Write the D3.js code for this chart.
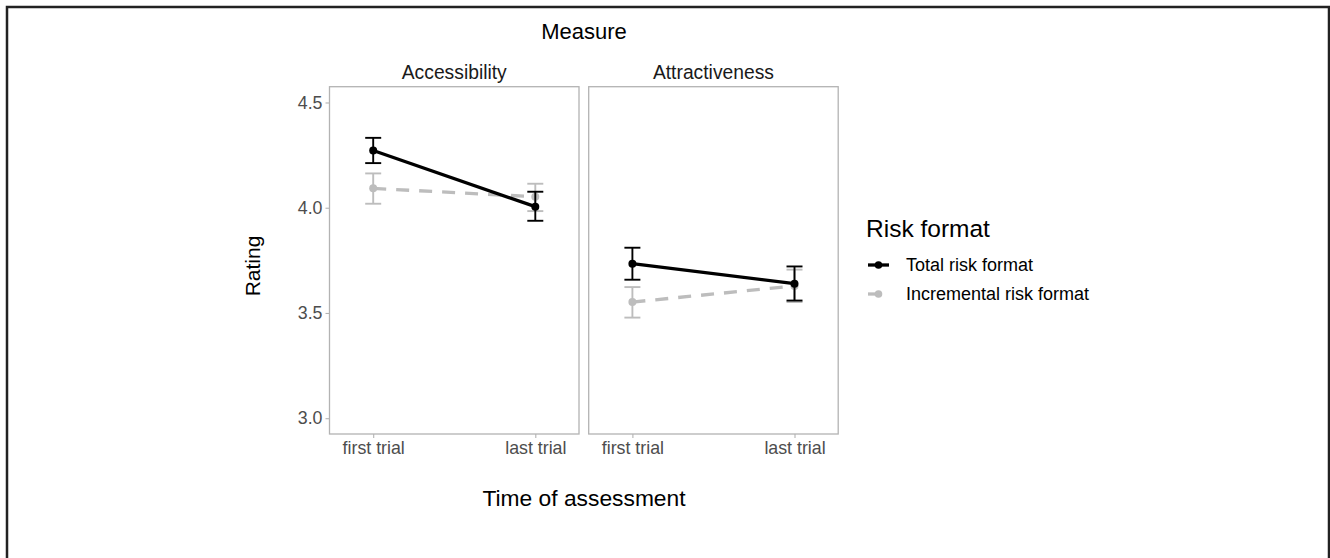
<!DOCTYPE html>
<html>
<head>
<meta charset="utf-8">
<script src="https://cdn.jsdelivr.net/npm/d3@7"></script>
<style>
  html, body { margin: 0; padding: 0; background: #fff; }
  svg { display: block; }
  text { font-family: "Liberation Sans", Arial, sans-serif; }
</style>
</head>
<body>
<script>
// ---- data ----
const panels = ["Accessibility", "Attractiveness"];
const times = ["first trial", "last trial"];
const seriesNames = ["Total risk format", "Incremental risk format"];
const yTicks = [3.0, 3.5, 4.0, 4.5];

// mean, lower, upper per panel per time
const totalMean  = [[4.272, 4.005], [3.734, 3.639]];
const totalLow   = [[4.212, 3.938], [3.658, 3.559]];
const totalHigh  = [[4.332, 4.076], [3.810, 3.721]];
const incrMean   = [[4.092, 4.052], [3.552, 3.628]];
const incrLow    = [[4.019, 3.984], [3.478, 3.552]];
const incrHigh   = [[4.163, 4.114], [3.623, 3.706]];

const seriesColors = ["#000000", "#bdbdbd"];
const seriesDash = [null, "13,10"];

const W = 1330, H = 558;
const svg = d3.select("body").append("svg").attr("width", W).attr("height", H);

// outer border
svg.append("rect").attr("x", 7).attr("y", 7).attr("width", W - 8).attr("height", H + 20)
  .attr("fill", "none").attr("stroke", "#222").attr("stroke-width", 2.5);

const panelLeft = [329.5, 588.7];
const panelW = 249.5;
const pTop = 86.7, pBottom = 434;

const y = d3.scaleLinear().domain([2.925, 4.575]).range([pBottom, pTop]);

const series = [
  { name: seriesNames[0], mean: totalMean, low: totalLow, high: totalHigh },
  { name: seriesNames[1], mean: incrMean, low: incrLow, high: incrHigh }
];

panels.forEach((p, pi) => {
  const x0 = panelLeft[pi];
  const x = d3.scalePoint().domain(times).range([x0 + 43.7, x0 + panelW - 43.7]);
  const g = svg.append("g");

  // panel border
  g.append("rect").attr("x", x0).attr("y", pTop).attr("width", panelW).attr("height", pBottom - pTop)
    .attr("fill", "none").attr("stroke", "#b3b3b3").attr("stroke-width", 1.3);

  // strip label
  g.append("text").attr("x", x0 + panelW / 2).attr("y", 78.5).attr("text-anchor", "middle")
    .attr("font-size", 19.3).attr("fill", "#1a1a1a").text(p);

  // x axis
  const xa = g.append("g").attr("transform", `translate(0,${pBottom})`)
    .call(d3.axisBottom(x).tickSize(4).tickPadding(3.5));
  xa.select(".domain").remove();
  xa.selectAll("line").attr("stroke", "#b3b3b3").attr("stroke-width", 1.1);
  xa.selectAll("text").attr("font-size", 17.8).attr("fill", "#4d4d4d");

  if (pi === 0) {
    const ya = g.append("g").attr("transform", `translate(${x0},0)`)
      .call(d3.axisLeft(y).tickValues(yTicks).tickFormat(d3.format(".1f")).tickSize(4).tickPadding(3));
    ya.select(".domain").remove();
    ya.selectAll("line").attr("stroke", "#b3b3b3").attr("stroke-width", 1.1);
    ya.selectAll("text").attr("font-size", 17.8).attr("fill", "#4d4d4d");
  }

  // draw incremental first (underneath), then total
  [1, 0].forEach(si => {
    const s = series[si];
    const col = seriesColors[si];
    const pts = times.map((t, ti) => ({ t, m: s.mean[pi][ti], lo: s.low[pi][ti], hi: s.high[pi][ti] }));
    // error bars
    pts.forEach(d => {
      const cx = x(d.t);
      g.append("line").attr("x1", cx).attr("x2", cx).attr("y1", y(d.lo)).attr("y2", y(d.hi))
        .attr("stroke", col).attr("stroke-width", 1.9);
      [d.lo, d.hi].forEach(v => {
        g.append("line").attr("x1", cx - 8).attr("x2", cx + 8).attr("y1", y(v)).attr("y2", y(v))
          .attr("stroke", col).attr("stroke-width", 1.9);
      });
    });
    // line
    g.append("path").datum(pts)
      .attr("d", d3.line().x(d => x(d.t)).y(d => y(d.m)))
      .attr("fill", "none").attr("stroke", col).attr("stroke-width", 3.3)
      .attr("stroke-dasharray", seriesDash[si]);
    // points
    g.selectAll(null).data(pts).enter().append("circle")
      .attr("cx", d => x(d.t)).attr("cy", d => y(d.m)).attr("r", 4).attr("fill", col);
  });
});

// titles
svg.append("text").attr("x", 584).attr("y", 39).attr("text-anchor", "middle")
  .attr("font-size", 22).attr("fill", "#000").text("Measure");
svg.append("text").attr("x", 584).attr("y", 506).attr("text-anchor", "middle")
  .attr("font-size", 22.8).attr("fill", "#000").text("Time of assessment");
svg.append("text").attr("transform", "translate(260,266) rotate(-90)").attr("text-anchor", "middle")
  .attr("font-size", 21).attr("fill", "#000").text("Rating");

// legend
const lg = svg.append("g");
lg.append("text").attr("x", 866).attr("y", 237).attr("font-size", 24.5).attr("fill", "#000").text("Risk format");
seriesNames.forEach((n, i) => {
  const yy = 265 + i * 29;
  lg.append("line").attr("x1", 868).attr("x2", 889).attr("y1", yy).attr("y2", yy)
    .attr("stroke", seriesColors[i]).attr("stroke-width", 3.3)
    .attr("stroke-dasharray", seriesDash[i]);
  lg.append("circle").attr("cx", 878.5).attr("cy", yy).attr("r", 3.8).attr("fill", seriesColors[i]);
  lg.append("text").attr("x", 906).attr("y", yy + 6).attr("font-size", 18).attr("fill", "#000").text(n);
});
</script>
</body>
</html>
